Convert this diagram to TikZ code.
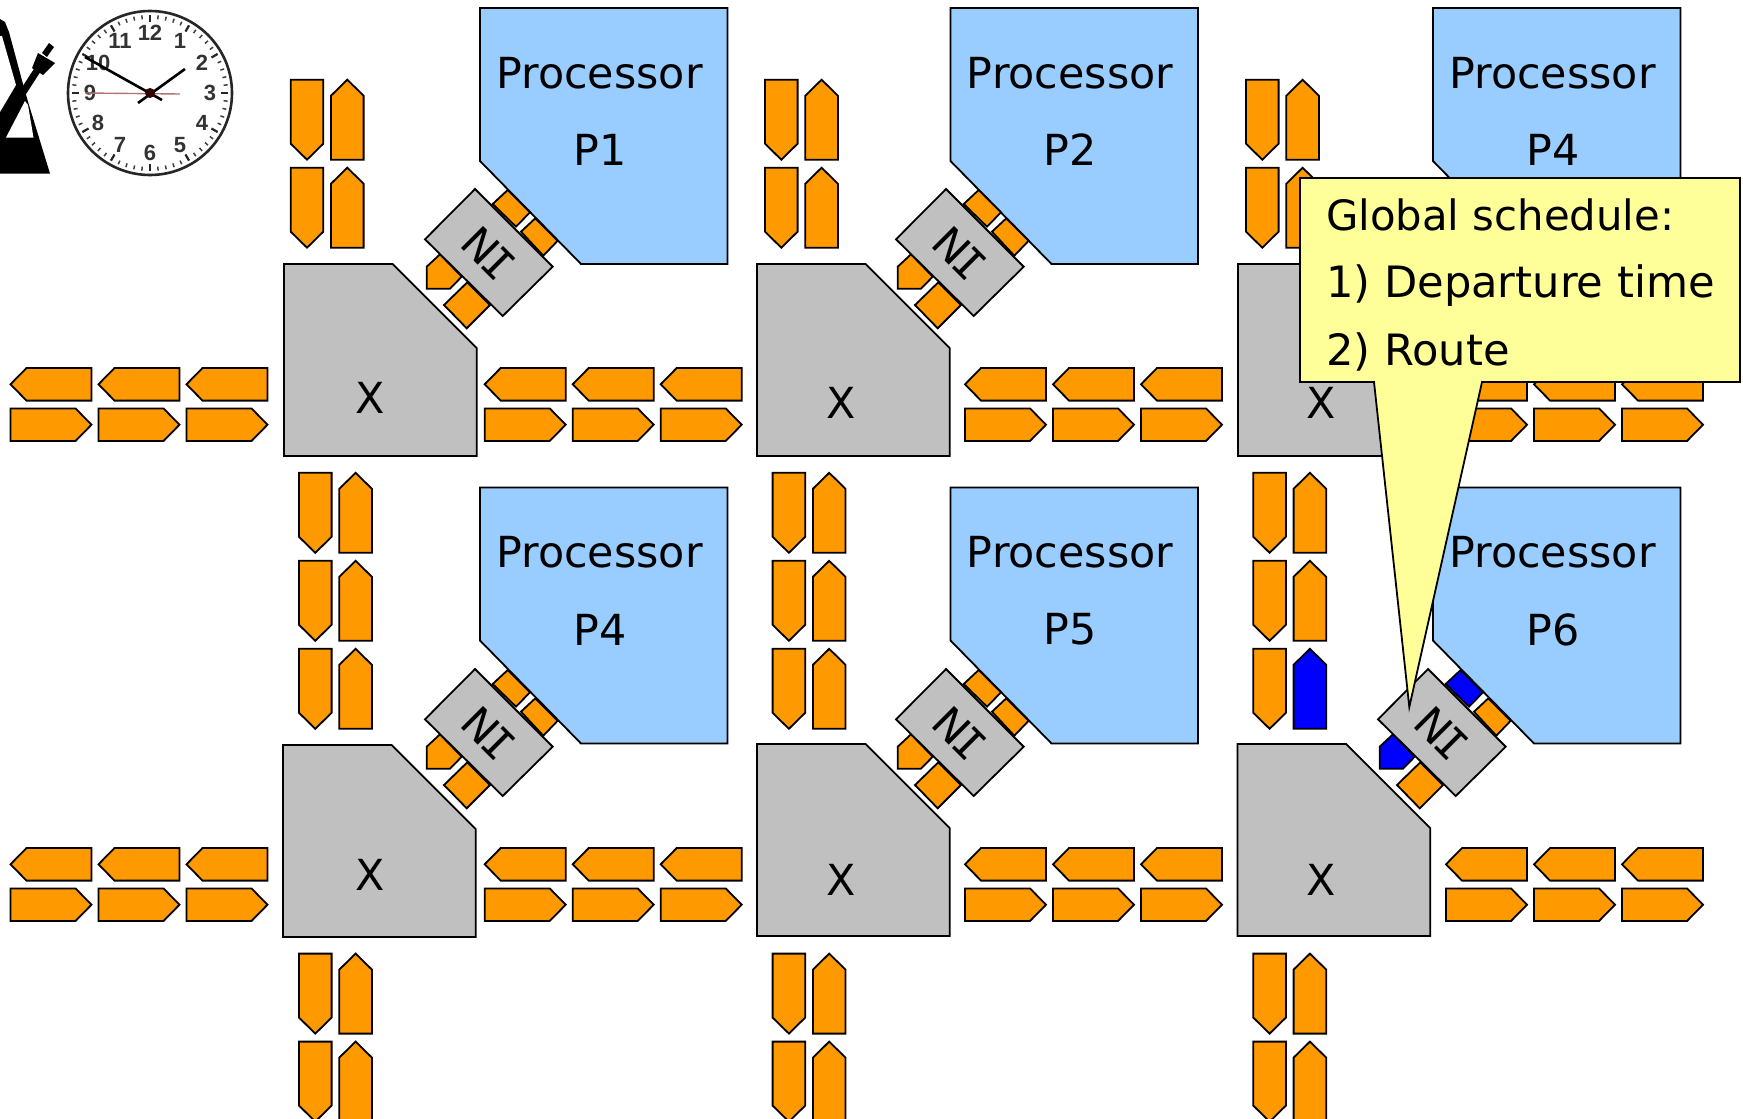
\documentclass[tikz,border=0pt]{standalone}
\usepackage{fontspec}
\setmainfont{DejaVu Sans}
\newfontfamily\serifI{DejaVu Sans Mono}
\newfontfamily\dialfont{Liberation Sans}
\definecolor{flit}{HTML}{FF9900}
\definecolor{busy}{HTML}{0000FF}
\definecolor{proc}{HTML}{99CCFF}
\definecolor{router}{HTML}{C0C0C0}
\definecolor{note}{HTML}{FFFF99}
\tikzset{
  edge/.style={draw=black,line width=1.8pt,line join=miter},
  biglabel/.style={inner sep=0pt,font=\fontsize{42.8}{50}\selectfont},
  numeral/.style={inner sep=0pt,font=\fontsize{22}{24}\selectfont\dialfont\bfseries,text=black!80},
}
\usetikzlibrary{calc}
% vertical flits, given top-left corner
\newcommand\FlitDown[3]{\filldraw[edge,fill=#3,shift={(#1,#2)}] (0,0)--(32.6,0)--(32.6,64)--(16.3,80)--(0,64)--cycle;}
\newcommand\FlitUp[3]{\filldraw[edge,fill=#3,shift={(#1,#2)}] (16.3,0)--(32.6,16)--(32.6,80)--(0,80)--(0,16)--cycle;}
% horizontal flits, given left edge and top
\newcommand\FlitLeft[2]{\filldraw[edge,fill=flit,shift={(#1,#2)}] (0,16.3)--(16,0)--(81,0)--(81,32.6)--(16,32.6)--cycle;}
\newcommand\FlitRight[2]{\filldraw[edge,fill=flit,shift={(#1,#2)}] (0,0)--(65,0)--(81,16.3)--(65,32.6)--(0,32.6)--cycle;}
\newcommand\HTriple[2]{\foreach \k in {0,88,176}{\FlitLeft{#1+\k}{#2}\FlitRight{#1+\k}{#2+40.4}}}
\newcommand\RouterBox[4]{\filldraw[edge,fill=router,shift={(#1,#2)}] (0,0)--(108.7,0)--(192.7,84)--(192.7,192)--(0,192)--cycle;
  \node[biglabel] (#3) at (#4) {X};}
\newcommand\ProcBox[4]{\filldraw[edge,fill=proc,shift={(#1,#2)}] (0,0)--(247.5,0)--(247.5,256)--(101,256)--(0,153)--cycle;
  \node[biglabel] (#3a) at ($(#1,#2)+(119.5,65)$) {Processor};
  \node[biglabel] (#3b) at ($(#1,#2)+(120,142)$) {#4};}
\newcommand\NIGroup[5]{\begin{scope}[shift={(#1,#2)}]
  \filldraw[edge,fill=#3] (507.7,190)--(530,212.3)--(516,226.7)--(492.7,204)--cycle;
  \filldraw[edge,fill=flit] (535.3,218.3)--(557.7,240.7)--(543.3,255.7)--(521,231.7)--cycle;
  \filldraw[edge,fill=#4] (440,254.3)--(461.7,276.7)--(450,288.7)--(426.7,288.7)--(426.7,266.7)--cycle;
  \filldraw[edge,fill=flit] (467.3,282.3)--(490,305)--(466.7,328.3)--(444,305)--cycle;
  \filldraw[edge,fill=router] (475,189)--(552.7,266.7)--(502.7,316)--(425,239.3)--cycle;
  \node[biglabel,rotate=-45] (#5) at (488.5,253.5) {N\kern-3pt{\serifI I}};
\end{scope}}
\begin{document}
\begin{tikzpicture}[x=1pt,y=-1pt]
\useasboundingbox (0,0) rectangle (1743,1119);
\clip (0,0) rectangle (1743,1119);
\fill[white] (0,0) rectangle (1743,1119);
% metronome
\fill[black] (0,19)--(5,22)--(9,32)--(23,84)--(29,105)--(50,173.5)--(0,173.5)--cycle;
\fill[white] (0,36)--(2,36)--(16,85)--(0,112)--cycle;
\fill[white] (6,137.5)--(33.5,137.5)--(28,105)--(25,101)--cycle;
\draw[black,line width=7pt] (-4,134)--(40,66);
\fill[black] (38,53)--(55,63)--(43,75)--(32,68)--cycle;
\fill[black] (49,43)--(54,47)--(47,57)--(42,53)--cycle;
% clock
\draw[black!85,line width=2.6pt,fill=white] (150,93) circle (82);
\foreach \a in {0,6,...,354}{\draw[black!75,line width=1.5pt] (150,93)++({\a}:74) -- ++({\a}:4);}
\foreach \a in {0,30,...,330}{\draw[black!85,line width=2.2pt] (150,93)++({\a}:71) -- ++({\a}:7);}
\foreach \n/\a in {12/90,1/60,2/30,3/0,4/-30,5/-60,6/-90,7/-120,8/-150,9/180,10/150,11/120}{
  \node[numeral] (h\n) at ($(150,93)+({60*cos(\a)},{-60*sin(\a)})$) {\n};}
\draw[red!45!black!55,line width=1.4pt] (85,93)--(180,94);
\draw[black,line width=2.6pt] (138,103)--(185,69);
\draw[black,line width=2.6pt] (162,100)--(85,57);
\fill[black!80!red] (150,93) circle (5);
% processors
\ProcBox{480}{8}{pa}{P1}
\ProcBox{950.5}{8}{pb}{P2}
\ProcBox{1433}{8}{pc}{P4}
\ProcBox{480}{487.5}{pd}{P4}
\ProcBox{950.5}{487.5}{pe}{P5}
\ProcBox{1433}{487.5}{pf}{P6}
% vertical flits
\foreach \x/\xx in {290.7/331,765/805.3,1246/1286.3}{
  \foreach \y in {79.7,167.7}{\FlitDown{\x}{\y}{flit}\FlitUp{\xx}{\y}{flit}}}
\foreach \x/\xx in {299/339.3,772.6/812.9,1253.3/1293.6}{
  \foreach \y in {472.8,560.8,953.6,1041.6}{\FlitDown{\x}{\y}{flit}\FlitUp{\xx}{\y}{flit}}}
\FlitDown{299}{648.8}{flit}\FlitUp{339.3}{648.8}{flit}
\FlitDown{772.6}{648.8}{flit}\FlitUp{812.9}{648.8}{flit}
\FlitDown{1253.3}{648.8}{flit}\FlitUp{1293.6}{648.8}{busy}
% horizontal flits
\foreach \r in {368,848}{
  \HTriple{10.5}{\r}\HTriple{484.7}{\r}\HTriple{965}{\r}\HTriple{1446}{\r}}
% network interfaces (the sixth one lies wholly under the callout)
\NIGroup{0}{0}{flit}{flit}{nia}
\NIGroup{471}{0}{flit}{flit}{nib}
\NIGroup{0}{480}{flit}{flit}{nid}
\NIGroup{471}{480}{flit}{flit}{nie}
\NIGroup{953}{480}{busy}{busy}{nif}
% routers
\RouterBox{284}{264}{xa}{370.5,397.5}
\RouterBox{757}{264}{xb}{841,402.5}
\RouterBox{1238}{264}{xc}{1321,402.5}
\RouterBox{283}{745}{xd}{370.5,874.5}
\RouterBox{757}{744}{xe}{841,879.5}
\RouterBox{1237.5}{744}{xf}{1321,879.5}
% callout
\filldraw[edge,fill=note] (1300,178)--(1740,178)--(1740,382)--(1482,382)--(1409.3,707)--(1374,382)--(1300,382)--cycle;
\node[biglabel,anchor=west,font=\fontsize{41.8}{50}\selectfont] (ca) at (1326,214.5) {Global schedule:};
\node[biglabel,anchor=west,font=\fontsize{43.2}{50}\selectfont] (cb) at (1326,286) {1) Departure time};
\node[biglabel,anchor=west,font=\fontsize{43.2}{50}\selectfont] (cc) at (1326,352) {2) Route};
\end{tikzpicture}
\end{document}
